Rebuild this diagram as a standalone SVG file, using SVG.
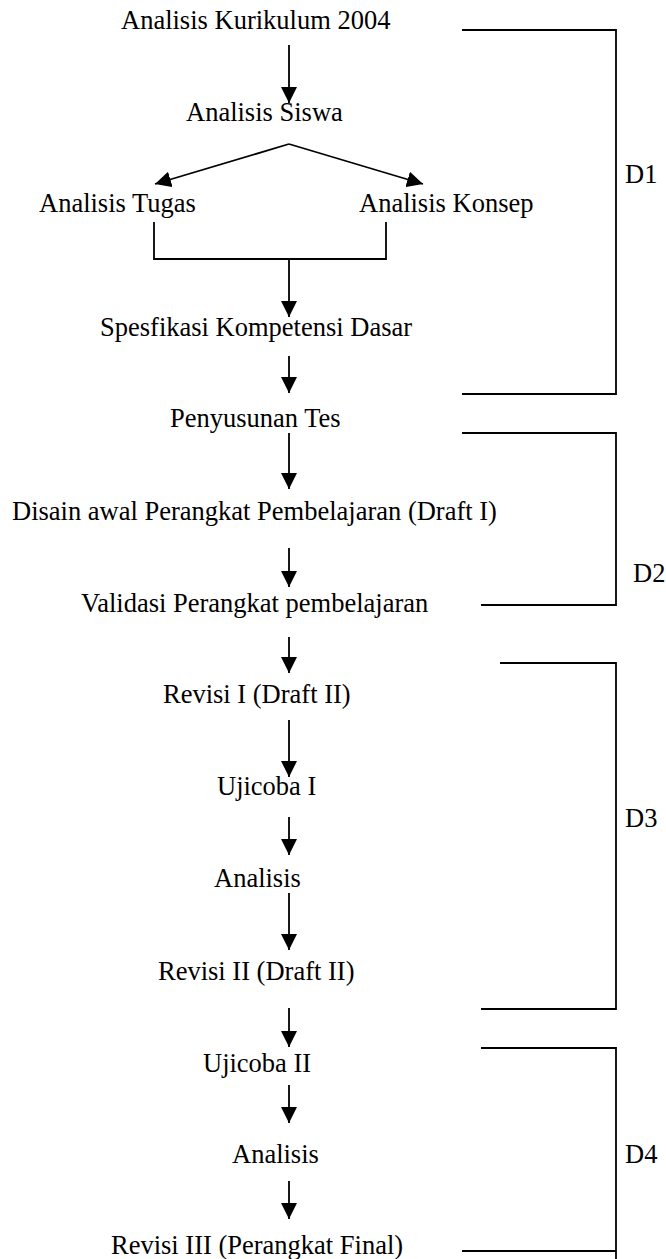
<svg xmlns="http://www.w3.org/2000/svg" width="666" height="1259" viewBox="0 0 666 1259">
<style>
text{font-family:"Liberation Serif","Times New Roman",serif;font-size:26.5px;fill:#000}
.c{fill:none;stroke:#000;stroke-width:1.8}
.a{marker-end:url(#ah)}
</style>
<defs>
<marker id="ah" markerUnits="userSpaceOnUse" markerWidth="16" markerHeight="16" viewBox="0 0 16 16" refX="16" refY="8" orient="auto">
<path d="M0,0 L16,8 L0,16 Z" fill="#000"/>
</marker>
</defs>
<rect width="666" height="1259" fill="#fff"/>
<g id="connectors">
<line class="c a" x1="289" y1="45" x2="289" y2="103"/>
<polyline class="c a" points="289,144 155,184"/>
<polyline class="c a" points="289,144 423,184"/>
<polyline class="c" points="154,222 154,259 386,259 386,222"/>
<line class="c a" x1="289" y1="259" x2="289" y2="317"/>
<line class="c a" x1="289" y1="356" x2="289" y2="393"/>
<line class="c a" x1="289" y1="433" x2="289" y2="489"/>
<line class="c a" x1="289" y1="548" x2="289" y2="587"/>
<line class="c a" x1="289" y1="637" x2="289" y2="673"/>
<line class="c a" x1="289" y1="720" x2="289" y2="777"/>
<line class="c a" x1="289" y1="817" x2="289" y2="855"/>
<line class="c a" x1="289" y1="893" x2="289" y2="950"/>
<line class="c a" x1="289" y1="1008" x2="289" y2="1047"/>
<line class="c a" x1="289" y1="1085" x2="289" y2="1123"/>
<line class="c a" x1="289" y1="1181" x2="289" y2="1219"/>
</g>
<g id="brackets">
<polyline class="c" points="462,30 616,30 616,394 462,394"/>
<polyline class="c" points="462,433 616,433 616,605 481,605"/>
<polyline class="c" points="500,663 616,663 616,1009 481,1009"/>
<polyline class="c" points="481,1048 616,1048 616,1259"/>
<line class="c" x1="462" y1="1251" x2="616" y2="1251"/>
</g>
<g id="n1"><text x="121" y="29">Analisis Kurikulum 2004</text></g>
<g id="n2"><text x="186" y="121">Analisis Siswa</text></g>
<g id="n3"><text x="39" y="212">Analisis Tugas</text></g>
<g id="n4"><text x="359" y="212">Analisis Konsep</text></g>
<g id="n5"><text x="100" y="336">Spesfikasi Kompetensi Dasar</text></g>
<g id="n6"><text x="170" y="427">Penyusunan Tes</text></g>
<g id="n7"><text x="12" y="520">Disain awal Perangkat Pembelajaran (Draft I)</text></g>
<g id="n8"><text x="81" y="612">Validasi Perangkat pembelajaran</text></g>
<g id="n9"><text x="163" y="703">Revisi I (Draft II)</text></g>
<g id="n10"><text x="217" y="795">Ujicoba I</text></g>
<g id="n11"><text x="214" y="887">Analisis</text></g>
<g id="n12"><text x="158" y="980">Revisi II (Draft II)</text></g>
<g id="n13"><text x="203" y="1072">Ujicoba II</text></g>
<g id="n14"><text x="232" y="1163">Analisis</text></g>
<g id="n15"><text x="111" y="1254">Revisi III (Perangkat Final)</text></g>
<g id="labels">
<text x="625" y="183">D1</text>
<text x="633" y="582">D2</text>
<text x="625" y="827">D3</text>
<text x="625" y="1163">D4</text>
</g>
</svg>
